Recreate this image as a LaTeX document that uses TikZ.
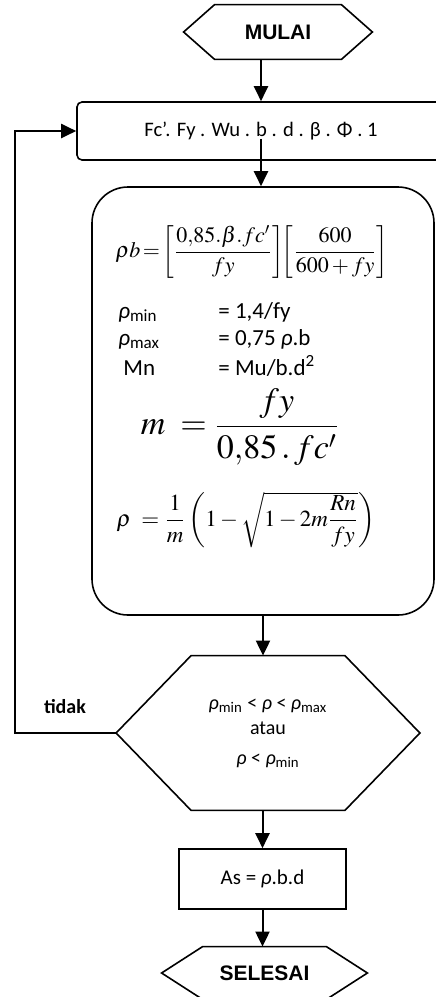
\documentclass[tikz,border=0pt]{standalone}
\usepackage{amsmath}
\usepackage{mathptmx}
\usepackage[no-math]{fontspec}
\setmainfont{Carlito}
\newfontfamily\arialfont{Liberation Sans}
\usetikzlibrary{arrows.meta,calc,positioning}

\newcommand{\rh}{\textit{ρ}}
\newcommand{\hexoutline}[2]{(#1.west) -- ([xshift=#2]#1.north west) -- ([xshift=-#2]#1.north east) -- (#1.east) -- ([xshift=-#2]#1.south east) -- ([xshift=#2]#1.south west) -- cycle}

\begin{document}
\begin{tikzpicture}[
  x=0.5pt,y=-0.5pt,
  box/.style={draw,line width=0.8pt,inner sep=0pt,font=\fontsize{10.5}{12}\selectfont},
  hexbox/.style={inner sep=0pt,align=center},
  hexline/.style={line width=0.8pt,line join=miter},
  flow/.style={-{Triangle[length=7.5pt,width=7pt]},line width=1pt},
  eqn/.style={inner sep=0pt},
  row/.style={anchor=base west,inner sep=0pt,font=\fontsize{11.5}{13}\selectfont}
]
\useasboundingbox (0,0) rectangle (435,997);

\node[hexbox,minimum width=94pt,minimum height=27pt,font=\arialfont\bfseries\fontsize{10.5}{12}\selectfont] (start) at (278,32) {MULAI};
\node[box,rounded corners=2.5pt,minimum width=184pt,minimum height=29pt,font=\fontsize{10.3}{12}\selectfont] (input) at (261,131) {Fc’. Fy . Wu . b . d . β . Φ . 1};
\node[box,rounded corners=18pt,minimum width=171pt,minimum height=214pt] (calc) at (263,401) {};

\node[eqn,font=\fontsize{11}{13}\selectfont] (rhob) at (252,252) {$\rho b\!=\!\left[\dfrac{0{,}85.\beta.fc'}{fy}\right]\!\!\left[\dfrac{600}{600+fy}\right]$};
\node[row] (rminl) at (118,318) {\rh\textsubscript{min}};
\node[row] (rminr) at (218,318) {= 1,4/fy};
\node[row] (rmaxl) at (118,345) {\rh\textsubscript{max}};
\node[row] (rmaxr) at (218,345) {= 0,75 \rh.b};
\node[row] (mnl) at (123,375) {Mn};
\node[row] (mnr) at (218,375) {= Mu/b.d\textsuperscript{2}};
\node[eqn,font=\fontsize{17}{20}\selectfont] (meq) at (240,427) {$m\;=\dfrac{fy}{0{,}85\,.\,fc'}$};
\node[eqn,font=\fontsize{11.5}{14}\selectfont] (rhoeq) at (246,520) {$\rho\;=\dfrac{1}{m}\left(1-\sqrt{1-2m\dfrac{Rn}{fy}}\right)$};

\node[hexbox,minimum width=151.5pt,minimum height=77pt,font=\fontsize{10}{11}\selectfont] (check) at (268,733) {\rh\textsubscript{min} < \rh{} < \rh\textsubscript{max}\\[1.5pt] atau\\[4pt] \rh{} < \rh\textsubscript{min}};
\node[font=\bfseries\fontsize{10}{12}\selectfont] (tidak) at (65,707) {tidak};
\node[box,minimum width=83.5pt,minimum height=30pt] (as) at (262.5,879) {As = \rh.b.d};
\node[hexbox,minimum width=102.5pt,minimum height=26pt,font=\arialfont\bfseries\fontsize{10.5}{12}\selectfont] (finish) at (264.5,973) {SELESAI};

\draw[hexline] \hexoutline{start}{15.5pt};
\draw[hexline] \hexoutline{check}{37.5pt};
\draw[hexline] \hexoutline{finish}{20.5pt};

\coordinate (loopx) at (15,0);
\draw[flow] (start.south -| input.north) -- (input.north);
\draw[flow] ($(input.south)+(0,-22)$) -- (input.south |- calc.north);
\draw[flow] (calc.south) -- (calc.south |- check.north);
\draw[flow] (as.north |- check.south) -- (as.north);
\draw[flow] (as.south) -- (as.south |- finish.north);
\draw[flow] (check.west) -- (check.west -| loopx) |- (input.west);
\end{tikzpicture}
\end{document}
